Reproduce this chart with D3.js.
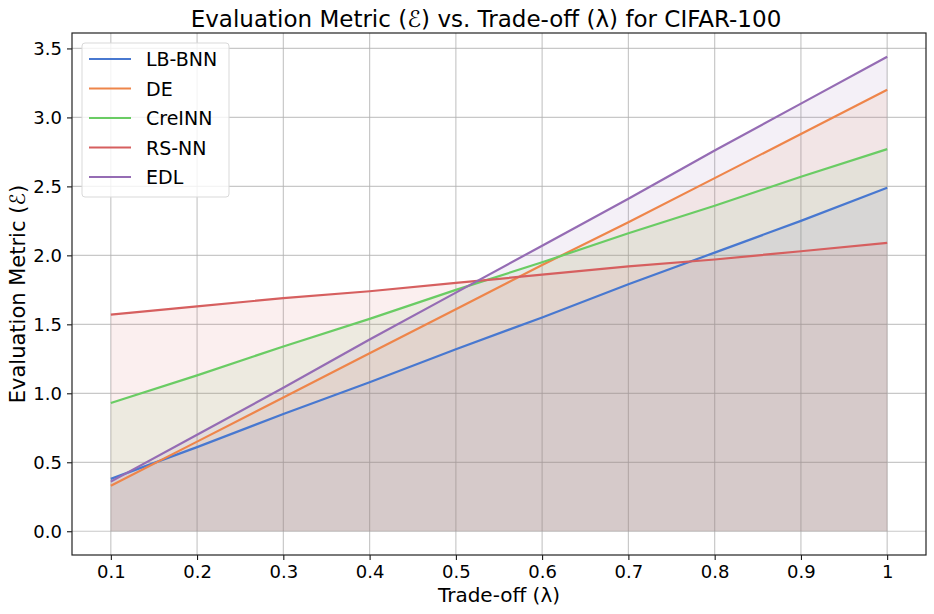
<!DOCTYPE html>
<html>
<head>
<meta charset="utf-8">
<script src="https://cdn.jsdelivr.net/npm/d3@7"></script>
<style>
  body { margin: 0; background: #fff; }
  text { font-family: "DejaVu Sans", sans-serif; }
</style>
</head>
<body>
<div id="chart"></div>
<script>
// lambda values
var lambdas = [0.1, 0.2, 0.3, 0.4, 0.5, 0.6, 0.7, 0.8, 0.9, 1.0];

// metric values
var lbBnn  = [0.38, 0.61, 0.85, 1.08, 1.32, 1.55, 1.79, 2.02, 2.25, 2.49];
var de     = [0.33, 0.65, 0.97, 1.29, 1.61, 1.93, 2.24, 2.56, 2.88, 3.20];
var creInn = [0.93, 1.13, 1.34, 1.54, 1.75, 1.95, 2.16, 2.36, 2.57, 2.77];
var rsNn   = [1.57, 1.63, 1.69, 1.74, 1.80, 1.86, 1.92, 1.97, 2.03, 2.09];
var edl    = [0.36, 0.70, 1.04, 1.39, 1.73, 2.07, 2.41, 2.76, 3.10, 3.44];

var seriesNames = ["LB-BNN", "DE", "CreINN", "RS-NN", "EDL"];
var seriesValues = [lbBnn, de, creInn, rsNn, edl];
var colors = ["#4878d0", "#ee854a", "#6acc64", "#d65f5f", "#956cb4"];

var xTicks = [0.1, 0.2, 0.3, 0.4, 0.5, 0.6, 0.7, 0.8, 0.9, 1.0];
var xTickLabels = ["0.1", "0.2", "0.3", "0.4", "0.5", "0.6", "0.7", "0.8", "0.9", "1"];
var yTicks = [0.0, 0.5, 1.0, 1.5, 2.0, 2.5, 3.0, 3.5];

var svgWidth = 934;
var svgHeight = 614;

var margin = { top: 33, right: 8, bottom: 59, left: 72 };
var width = svgWidth - margin.left - margin.right;
var height = svgHeight - margin.top - margin.bottom;

var svg = d3.select("#chart")
  .append("svg")
  .attr("width", svgWidth)
  .attr("height", svgHeight);

var chartGroup = svg.append("g")
  .attr("transform", `translate(${margin.left}, ${margin.top})`);

// matplotlib-like 5% margins
var xLinearScale = d3.scaleLinear()
  .domain([0.1 - 0.045, 1.0 + 0.045])
  .range([0, width]);

var yMax = d3.max(seriesValues, s => d3.max(s));
var yLinearScale = d3.scaleLinear()
  .domain([0 - yMax * 0.05, yMax * 1.05])
  .range([height, 0]);

// grid
chartGroup.append("g")
  .attr("class", "grid")
  .selectAll("line.v")
  .data(xTicks)
  .enter()
  .append("line")
  .attr("x1", d => xLinearScale(d))
  .attr("x2", d => xLinearScale(d))
  .attr("y1", 0)
  .attr("y2", height)
  .attr("stroke", "#b0b0b0")
  .attr("stroke-opacity", 0.7)
  .attr("stroke-width", 1.2);

chartGroup.append("g")
  .attr("class", "grid")
  .selectAll("line.h")
  .data(yTicks)
  .enter()
  .append("line")
  .attr("x1", 0)
  .attr("x2", width)
  .attr("y1", d => yLinearScale(d))
  .attr("y2", d => yLinearScale(d))
  .attr("stroke", "#b0b0b0")
  .attr("stroke-opacity", 0.7)
  .attr("stroke-width", 1.2);

// fills under each line
var area = d3.area()
  .x(d => xLinearScale(d[0]))
  .y0(yLinearScale(0))
  .y1(d => yLinearScale(d[1]));

var line = d3.line()
  .x(d => xLinearScale(d[0]))
  .y(d => yLinearScale(d[1]));

seriesValues.forEach(function(vals, i) {
  var pts = lambdas.map((l, j) => [l, vals[j]]);
  chartGroup.append("path")
    .datum(pts)
    .attr("d", area)
    .attr("fill", colors[i])
    .attr("fill-opacity", 0.1);
});

seriesValues.forEach(function(vals, i) {
  var pts = lambdas.map((l, j) => [l, vals[j]]);
  chartGroup.append("path")
    .datum(pts)
    .attr("d", line)
    .attr("fill", "none")
    .attr("stroke", colors[i])
    .attr("stroke-width", 2.2);
});

// axes
var bottomAxis = d3.axisBottom(xLinearScale)
  .tickValues(xTicks)
  .tickFormat((d, i) => xTickLabels[i])
  .tickSizeOuter(0)
  .tickSize(5)
  .tickPadding(5);

var leftAxis = d3.axisLeft(yLinearScale)
  .tickValues(yTicks)
  .tickFormat(d3.format(".1f"))
  .tickSizeOuter(0)
  .tickSize(5)
  .tickPadding(5);

var xAxis = chartGroup.append("g")
  .attr("transform", `translate(0, ${height})`)
  .call(bottomAxis);

var yAxis = chartGroup.append("g")
  .call(leftAxis);

[xAxis, yAxis].forEach(function(ax) {
  ax.select(".domain").remove();
  ax.selectAll("text")
    .style("font-family", "DejaVu Sans, sans-serif")
    .style("font-size", "18px")
    .attr("fill", "#000");
  ax.selectAll("line").attr("stroke", "#000").attr("stroke-width", 1);
});

// frame
chartGroup.append("rect")
  .attr("x", 0)
  .attr("y", 0)
  .attr("width", width)
  .attr("height", height)
  .attr("fill", "none")
  .attr("stroke", "#222")
  .attr("stroke-width", 1.2);

// title and labels
svg.append("text")
  .attr("x", margin.left + width / 2 - 13)
  .attr("y", 27)
  .attr("text-anchor", "middle")
  .style("font-size", "23px")
  .text("Evaluation Metric (ℰ) vs. Trade-off (λ) for CIFAR-100");

svg.append("text")
  .attr("x", margin.left + width / 2)
  .attr("y", 602)
  .attr("text-anchor", "middle")
  .style("font-size", "20px")
  .text("Trade-off (λ)");

svg.append("text")
  .attr("transform", `translate(25, ${margin.top + height / 2}) rotate(-90)`)
  .attr("text-anchor", "middle")
  .style("font-size", "21px")
  .text("Evaluation Metric (ℰ)");

// legend
var legend = chartGroup.append("g")
  .attr("transform", "translate(10, 10)");

legend.append("rect")
  .attr("width", 147)
  .attr("height", 154)
  .attr("rx", 3)
  .attr("fill", "#fff")
  .attr("fill-opacity", 0.8)
  .attr("stroke", "#d9d9d9");

seriesNames.forEach(function(name, i) {
  var yPos = 16 + i * 29.5;
  legend.append("line")
    .attr("x1", 7)
    .attr("x2", 49)
    .attr("y1", yPos)
    .attr("y2", yPos)
    .attr("stroke", colors[i])
    .attr("stroke-width", 2.2);
  legend.append("text")
    .attr("x", 64)
    .attr("y", yPos + 7)
    .style("font-size", "19px")
    .text(name);
});
</script>
</body>
</html>
